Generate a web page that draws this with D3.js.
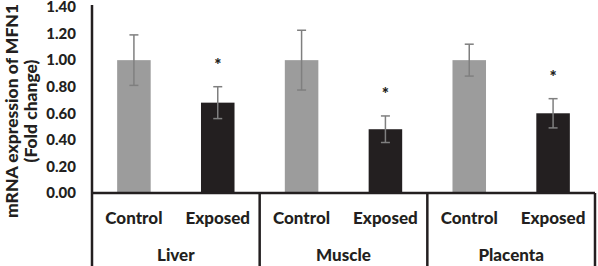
<!DOCTYPE html>
<html>
<head>
<meta charset="utf-8">
<script src="https://cdn.jsdelivr.net/npm/d3@7"></script>
<style>
  body { margin: 0; background: #fff; }
  text { font-family: Lato, "Open Sans", sans-serif; font-weight: 900; fill: #231f20; }
</style>
</head>
<body>
<div id="chart"></div>
<script>
// data
const groups = ['Liver', 'Muscle', 'Placenta'];
const conditions = ['Control', 'Exposed'];
const controlMeans = [1.00, 1.00, 1.00];
const controlErr = [0.19, 0.225, 0.12];
const exposedMeans = [0.68, 0.48, 0.60];
const exposedErr = [0.12, 0.10, 0.11];
const significant = [true, true, true];
const yTicks = [0, 0.2, 0.4, 0.6, 0.8, 1.0, 1.2, 1.4];

const width = 598, height = 266;
const margin = { top: 7, right: 3, bottom: 73, left: 92 };
const ink = '#231f20';

const rows = [];
groups.forEach((g, i) => {
  rows.push({ group: g, cond: 'Control', mean: controlMeans[i], err: controlErr[i], star: false });
  rows.push({ group: g, cond: 'Exposed', mean: exposedMeans[i], err: exposedErr[i], star: significant[i] });
});

const svg = d3.select('#chart').append('svg')
  .attr('width', width)
  .attr('height', height);

const x0 = d3.scaleBand()
  .domain(groups)
  .range([margin.left, width - margin.right])
  .padding(0);

const x1 = d3.scaleBand()
  .domain(conditions)
  .range([0, x0.bandwidth()])
  .paddingInner(0.6)
  .paddingOuter(0.3);

const y = d3.scaleLinear()
  .domain([0, 1.4])
  .range([height - margin.bottom, margin.top]);

const color = d3.scaleOrdinal().domain(conditions).range(['#9c9c9c', ink]);

// y axis labels (no tick marks)
const yAxis = d3.axisLeft(y)
  .tickValues(yTicks)
  .tickFormat(d3.format('.2f'))
  .tickSize(0)
  .tickPadding(16);

svg.append('g')
  .attr('transform', `translate(${margin.left},0)`)
  .call(yAxis)
  .call((g) => g.select('.domain').remove())
  .selectAll('text')
  .style('font-size', '15px')
  .style('font-family', 'Lato, sans-serif')
  .style('font-weight', 900)
  .attr('fill', ink);

// bars
svg.append('g')
  .selectAll('rect')
  .data(rows)
  .enter()
  .append('rect')
  .attr('x', (d) => x0(d.group) + x1(d.cond))
  .attr('y', (d) => y(d.mean))
  .attr('width', x1.bandwidth())
  .attr('height', (d) => y(0) - y(d.mean))
  .attr('fill', (d) => color(d.cond));

// error bars
const eb = svg.append('g')
  .attr('stroke', '#7f7f7f')
  .attr('stroke-width', 1.5)
  .selectAll('g')
  .data(rows)
  .enter()
  .append('g')
  .attr('transform', (d) => `translate(${x0(d.group) + x1(d.cond) + x1.bandwidth() / 2},0)`);

eb.append('line')
  .attr('y1', (d) => y(d.mean + d.err))
  .attr('y2', (d) => y(d.mean - d.err));
eb.append('line')
  .attr('x1', -4.5).attr('x2', 4.5)
  .attr('y1', (d) => y(d.mean + d.err))
  .attr('y2', (d) => y(d.mean + d.err));
eb.append('line')
  .attr('x1', -4.5).attr('x2', 4.5)
  .attr('y1', (d) => y(d.mean - d.err))
  .attr('y2', (d) => y(d.mean - d.err));

// significance stars
svg.append('g')
  .selectAll('text')
  .data(rows.filter((d) => d.star))
  .enter()
  .append('text')
  .attr('x', (d) => x0(d.group) + x1(d.cond) + x1.bandwidth() / 2)
  .attr('y', (d) => y(d.mean + d.err) - 16)
  .attr('text-anchor', 'middle')
  .style('font-size', '17px')
  .text('*');

// axis frame: baseline, left axis, group separators
const frame = svg.append('g').attr('stroke', ink).attr('stroke-width', 2.5);
frame.append('line')
  .attr('x1', margin.left).attr('x2', width - margin.right)
  .attr('y1', y(0)).attr('y2', y(0));
frame.append('line')
  .attr('x1', margin.left).attr('x2', margin.left)
  .attr('y1', y(1.4) - 2).attr('y2', height);
frame.selectAll('.sep')
  .data(groups)
  .enter()
  .append('line')
  .attr('x1', (d) => x0(d) + x0.bandwidth())
  .attr('x2', (d) => x0(d) + x0.bandwidth())
  .attr('y1', y(0)).attr('y2', height);

// category labels
const catLabels = [];
groups.forEach((g) => conditions.forEach((c) => catLabels.push({ group: g, cond: c })));
svg.append('g')
  .selectAll('text')
  .data(catLabels)
  .enter()
  .append('text')
  .attr('x', (d) => x0(d.group) + x1(d.cond) + x1.bandwidth() / 2)
  .attr('y', 224)
  .attr('text-anchor', 'middle')
  .style('font-size', '17px')
  .text((d) => d.cond);

// group labels
svg.append('g')
  .selectAll('text')
  .data(groups)
  .enter()
  .append('text')
  .attr('x', (d) => x0(d) + x0.bandwidth() / 2)
  .attr('y', 261)
  .attr('text-anchor', 'middle')
  .style('font-size', '17px')
  .text((d) => d);

// y axis title
const title = svg.append('text')
  .attr('transform', 'translate(12,111) rotate(-90)')
  .attr('text-anchor', 'middle')
  .style('font-size', '17.5px');
title.append('tspan').attr('x', 0).attr('dy', '0.35em').text('mRNA expression of MFN1');
title.append('tspan').attr('x', 0).attr('dy', 19).text('(Fold change)');
</script>
</body>
</html>
